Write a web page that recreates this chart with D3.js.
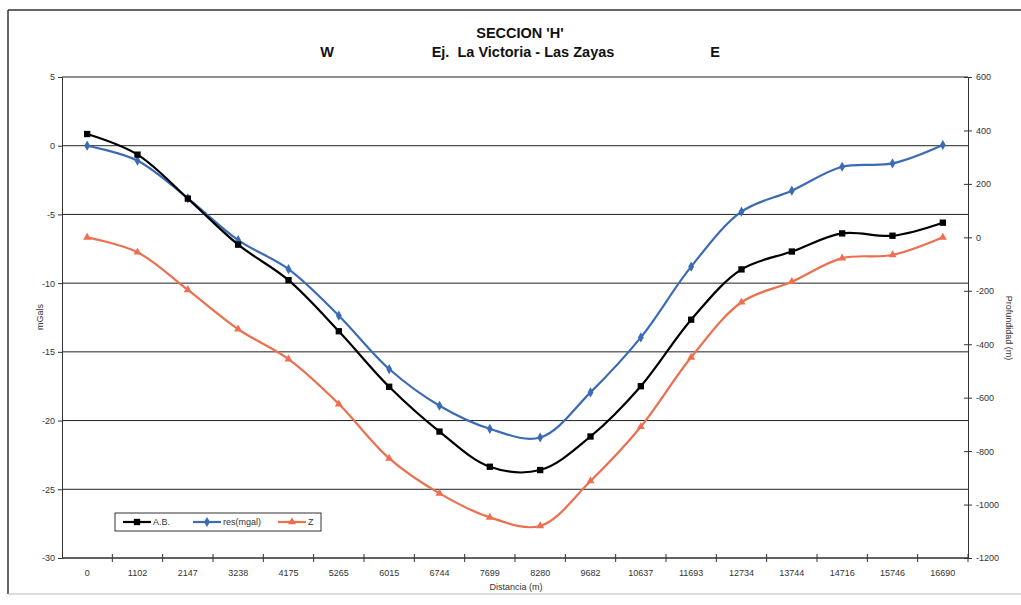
<!DOCTYPE html>
<html>
<head>
<meta charset="utf-8">
<script src="https://cdn.jsdelivr.net/npm/d3@7/dist/d3.min.js"></script>
<style>
  html, body { margin: 0; padding: 0; background: #fff; }
  svg { display: block; }
  .tick-label { font-family: "Liberation Sans", Arial, sans-serif; font-size: 9px; fill: #333; }
  .title { font-family: "Liberation Sans", Arial, sans-serif; font-weight: bold; font-size: 14.5px; fill: #111; }
</style>
</head>
<body>
<svg id="chart" width="1021" height="605"></svg>
<script>
// Distance stations along the section (m)
const distances = [0, 1102, 2147, 3238, 4175, 5265, 6015, 6744, 7699, 8280,
                   9682, 10637, 11693, 12734, 13744, 14716, 15746, 16690];
// Bouguer anomaly (mGal)
const anomaliaAB = [0.85, -0.65, -3.85, -7.2, -9.78, -13.5, -17.54, -20.8, -23.36, -23.6,
                    -21.16, -17.5, -12.66, -9.0, -7.7, -6.38, -6.55, -5.6];
// Residual anomaly (mGal)
const residual = [0, -1.09, -3.83, -6.87, -8.98, -12.37, -16.25, -18.92, -20.6, -21.23,
                  -17.95, -13.95, -8.8, -4.8, -3.27, -1.53, -1.29, 0.05];
// Depth of the modelled interface (m), right axis
const profundidad = [0, -56, -197, -344, -456, -624, -827, -958, -1048, -1080,
                     -912, -709, -449, -243, -166, -78, -66, 0];

const leftTicks = [5, 0, -5, -10, -15, -20, -25, -30];
const rightTicks = [600, 400, 200, 0, -200, -400, -600, -800, -1000, -1200];

const svg = d3.select("#chart");
const plotLeft = 62, plotRight = 968, plotTop = 77, plotBottom = 558;
const plain = d => String(d);

const x = d3.scaleBand().domain(distances.map(String)).range([plotLeft, plotRight]).padding(0);
const cx = d => x(String(d)) + x.bandwidth() / 2;
const yL = d3.scaleLinear().domain([-30, 5]).range([plotBottom, plotTop]);
const yR = d3.scaleLinear().domain([-1200, 600]).range([plotBottom, plotTop]);

// Outer frame
svg.append("line").attr("x1", 8).attr("x2", 1021).attr("y1", 10).attr("y2", 10)
  .attr("stroke", "#333").attr("stroke-width", 1.5);
svg.append("line").attr("x1", 8).attr("x2", 8).attr("y1", 10).attr("y2", 594)
  .attr("stroke", "#333").attr("stroke-width", 1.5);
svg.append("line").attr("x1", 8).attr("x2", 1021).attr("y1", 594).attr("y2", 594)
  .attr("stroke", "#bbb").attr("stroke-width", 1);

// Titles
svg.append("text").attr("class", "title").attr("x", 520).attr("y", 38)
  .attr("text-anchor", "middle").text("SECCION 'H'");
svg.append("text").attr("class", "title").attr("x", 327).attr("y", 57)
  .attr("text-anchor", "middle").text("W");
svg.append("text").attr("class", "title").attr("x", 523).attr("y", 57)
  .attr("text-anchor", "middle").attr("xml:space", "preserve").text("Ej.  La Victoria - Las Zayas");
svg.append("text").attr("class", "title").attr("x", 715).attr("y", 57)
  .attr("text-anchor", "middle").text("E");

// Horizontal gridlines on the mGal axis
svg.append("g").selectAll("line").data(leftTicks).join("line")
  .attr("x1", plotLeft).attr("x2", plotRight)
  .attr("y1", d => yL(d)).attr("y2", d => yL(d))
  .attr("stroke", "#222").attr("stroke-width", 1);

// Left axis
const gL = svg.append("g").attr("transform", `translate(${plotLeft},0)`)
  .call(d3.axisLeft(yL).tickValues(leftTicks).tickSize(4).tickFormat(plain));
gL.select(".domain").attr("stroke", "#333");
gL.selectAll(".tick line").attr("stroke", "#333");
gL.selectAll(".tick text").attr("class", "tick-label").attr("x", -7);

// Right axis (depth)
const gR = svg.append("g").attr("transform", `translate(${plotRight},0)`)
  .call(d3.axisRight(yR).tickValues(rightTicks).tickSize(4).tickFormat(plain));
gR.select(".domain").attr("stroke", "#333");
gR.selectAll(".tick line").attr("stroke", "#333").attr("x1", -4);
gR.selectAll(".tick text").attr("class", "tick-label").attr("x", 8);

// Bottom axis: category labels with ticks at band boundaries
svg.append("line").attr("x1", plotLeft).attr("x2", plotRight).attr("y1", plotBottom).attr("y2", plotBottom)
  .attr("stroke", "#333");
const boundaries = distances.map(d => x(String(d))).concat([plotRight]);
svg.append("g").selectAll("line").data(boundaries.slice(1)).join("line")
  .attr("x1", d => d).attr("x2", d => d).attr("y1", plotBottom - 4).attr("y2", plotBottom + 4)
  .attr("stroke", "#333");
svg.append("g").selectAll("text").data(distances).join("text")
  .attr("class", "tick-label").attr("x", d => cx(d)).attr("y", plotBottom + 18)
  .attr("text-anchor", "middle").text(d => d);

// Axis titles
svg.append("text").attr("class", "tick-label")
  .attr("transform", "translate(43,317) rotate(-90)").attr("text-anchor", "middle").text("mGals");
svg.append("text").attr("class", "tick-label")
  .attr("transform", "translate(1006,328) rotate(90)").attr("text-anchor", "middle").text("Profundidad (m)");
svg.append("text").attr("class", "tick-label").attr("x", 516).attr("y", 590)
  .attr("text-anchor", "middle").text("Distancia (m)");

// Series
const series = [
  { name: "A.B.", values: anomaliaAB, y: yL, color: "#000000", marker: d3.symbolSquare, size: 40 },
  { name: "res(mgal)", values: residual, y: yL, color: "#3b6bb5", marker: d3.symbolDiamond, size: 30 },
  { name: "Z", values: profundidad, y: yR, color: "#ec6f50", marker: d3.symbolTriangle, size: 28 }
];

const line = (s) => d3.line()
  .x((d, i) => cx(distances[i]))
  .y(d => s.y(d))
  .curve(d3.curveCatmullRom.alpha(0.5));

series.slice().reverse().forEach(s => {
  const g = svg.append("g");
  g.append("path").datum(s.values).attr("d", line(s))
    .attr("fill", "none").attr("stroke", s.color).attr("stroke-width", 2.2);
  g.selectAll("path.m").data(s.values).join("path").attr("class", "m")
    .attr("d", d3.symbol().type(s.marker).size(s.size))
    .attr("transform", (d, i) => `translate(${cx(distances[i])},${s.y(d)})`)
    .attr("fill", s.color);
});

// Legend
const lg = svg.append("g");
lg.append("rect").attr("x", 115).attr("y", 513).attr("width", 206).attr("height", 18)
  .attr("fill", "#fff").attr("stroke", "#333").attr("stroke-width", 1);
const legendX = [123, 193, 278];
series.forEach((s, i) => {
  const lx = legendX[i], ly = 522;
  lg.append("line").attr("x1", lx).attr("x2", lx + 28).attr("y1", ly).attr("y2", ly)
    .attr("stroke", s.color).attr("stroke-width", 2.2);
  lg.append("path").attr("d", d3.symbol().type(s.marker).size(s.size))
    .attr("transform", `translate(${lx + 14},${ly})`).attr("fill", s.color);
  lg.append("text").attr("class", "tick-label").attr("x", lx + 30).attr("y", ly + 3).text(s.name);
});
</script>
</body>
</html>
